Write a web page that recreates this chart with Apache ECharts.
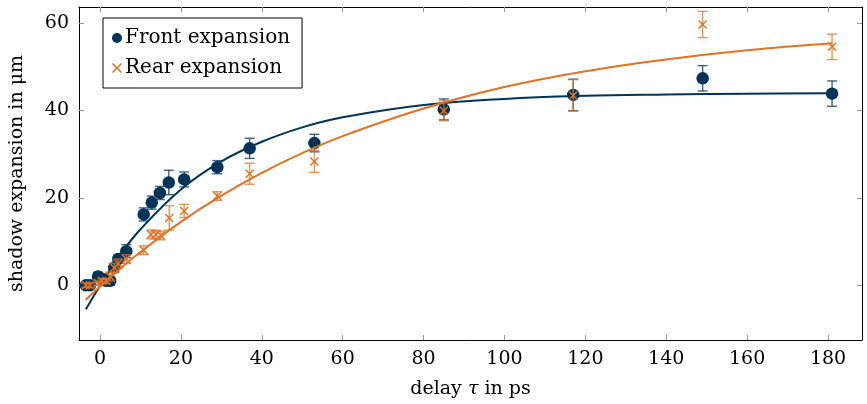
<!DOCTYPE html>
<html>
<head>
<meta charset="utf-8">
<script src="https://cdn.jsdelivr.net/npm/echarts@6/dist/echarts.min.js"></script>
<style>html,body{margin:0;padding:0;background:#fff;}#c{width:867px;height:404px;}</style>
</head>
<body>
<div id="c"></div>
<script>
// ---- data ----
const frontX   = [-3.5, -2.5, -0.5, 0.5, 1.5, 2.5, 3.5, 4.5, 6.5, 10.8, 12.8, 14.8, 17.0, 20.8, 29.0, 37.0, 53.0, 85.0, 117.0, 149.0, 181.0];
const frontY   = [0, 0, 2, 1.5, 1, 1, 4, 6, 7.8, 16.2, 18.9, 21.1, 23.5, 24.2, 27.0, 31.3, 32.5, 40.2, 43.5, 47.3, 43.8];
const frontErr = [0.5, 0.5, 1, 1, 1, 1, 1, 1, 1.5, 1.5, 1.5, 1.5, 2.8, 1.7, 1.5, 2.3, 2.0, 2.4, 3.6, 2.9, 2.9];

const rearX   = [-3.5, -2.5, -0.5, 0.5, 1.5, 2.5, 3.5, 4.5, 6.5, 10.8, 12.6, 13.8, 15.0, 17.1, 20.8, 29.0, 37.0, 53.0, 85.0, 117.0, 149.0, 181.0];
const rearY   = [0, 0, 0.5, 1, 1, 2, 4, 5, 6, 8.0, 11.6, 11.6, 11.4, 15.4, 17.0, 20.4, 25.5, 28.3, 39.9, 43.4, 59.6, 54.5];
const rearErr = [0.5, 0.5, 0.5, 0.5, 0.5, 1, 1, 1, 1, 1, 1, 1, 1, 2.8, 1.5, 1.0, 2.4, 2.5, 2.3, 3.6, 3.0, 2.9];

// fit curves
const fitX      = [-3.5, 0, 5, 10, 20, 30, 40, 50, 60, 80, 100, 120, 140, 160, 181];
const frontFitY = [-5.5, -0.1, 7.0, 12.8, 21.9, 28.3, 32.8, 36.1, 38.4, 41.2, 42.6, 43.3, 43.6, 43.8, 43.9];
const rearFitY  = [-3.3, -0.3, 3.8, 7.6, 14.5, 20.5, 25.7, 30.2, 34.1, 40.4, 45.3, 48.9, 51.6, 53.7, 55.3];

const xTicks = [0, 20, 40, 60, 80, 100, 120, 140, 160, 180];
const yTicks = [0, 20, 40, 60];

const xTitle = 'delay {i|τ} in ps';
const yTitle = 'shadow expansion in μm';
const frontName = 'Front expansion';
const rearName = 'Rear expansion';

// ---- styling ----
const NAVY = '#003359';
const ORANGE = '#E37222';
const FONT = 'DejaVu Serif';
const XPATH = 'path://M0,1.1L1.1,0L5,3.9L8.9,0L10,1.1L6.1,5L10,8.9L8.9,10L5,6.1L1.1,10L0,8.9L3.9,5Z';

const zip = (a, b) => a.map((v, i) => [v, b[i]]);
const errData = (xs, ys, es) => xs.map((v, i) => [v, ys[i] - es[i], ys[i] + es[i]]);

function errRender(color) {
  return function (params, api) {
    const x = api.value(0);
    const lo = api.coord([x, api.value(1)]);
    const hi = api.coord([x, api.value(2)]);
    const hw = 5;
    const style = { stroke: color, lineWidth: 1.4, opacity: 0.75 };
    return {
      type: 'group',
      children: [
        { type: 'line', shape: { x1: lo[0], y1: lo[1], x2: hi[0], y2: hi[1] }, style },
        { type: 'line', shape: { x1: lo[0] - hw, y1: lo[1], x2: lo[0] + hw, y2: lo[1] }, style },
        { type: 'line', shape: { x1: hi[0] - hw, y1: hi[1], x2: hi[0] + hw, y2: hi[1] }, style }
      ]
    };
  };
}

const axisCommon = {
  type: 'value',
  splitLine: { show: false },
  axisLine: { show: true, onZero: false, lineStyle: { color: '#000', width: 1 } },
  axisTick: { show: true, inside: true, length: 5, lineStyle: { color: '#999', width: 1 } }
};

const chart = echarts.init(document.getElementById('c'), null, { renderer: 'canvas' });
chart.setOption({
  animation: false,
  backgroundColor: '#fff',
  textStyle: { fontFamily: FONT },
  grid: { left: 78, right: 5, top: 7, bottom: 62, containLabel: false },
  legend: {
    data: [
      { name: frontName, icon: 'circle', itemStyle: { color: NAVY } },
      { name: rearName, icon: XPATH, itemStyle: { color: ORANGE } }
    ],
    orient: 'vertical',
    left: 103, top: 18,
    padding: [10, 12, 10, 9],
    itemGap: 10,
    itemWidth: 10, itemHeight: 10,
    borderColor: '#000', borderWidth: 1,
    backgroundColor: '#fff',
    textStyle: { fontFamily: FONT, fontSize: 20, lineHeight: 20, color: '#000', padding: [0, 0, 0, -2] }
  },
  xAxis: [
    Object.assign({}, axisCommon, {
      min: -5.2, max: 188.4, position: 'bottom',
      axisTick: Object.assign({}, axisCommon.axisTick, { customValues: xTicks }),
      axisLabel: { customValues: xTicks, color: '#000', fontFamily: FONT, fontSize: 19, margin: 10 },
      name: xTitle, nameLocation: 'middle', nameGap: 40,
      nameTextStyle: { fontFamily: FONT, fontSize: 19, color: '#000', rich: { i: { fontFamily: FONT, fontSize: 19, fontStyle: 'italic', color: '#000' } } }
    }),
    Object.assign({}, axisCommon, {
      min: -5.2, max: 188.4, position: 'top',
      axisTick: Object.assign({}, axisCommon.axisTick, { customValues: xTicks }),
      axisLabel: { show: false }
    })
  ],
  yAxis: [
    Object.assign({}, axisCommon, {
      min: -12.5, max: 63.6, position: 'left',
      axisTick: Object.assign({}, axisCommon.axisTick, { customValues: yTicks }),
      axisLabel: { customValues: yTicks, color: '#000', fontFamily: FONT, fontSize: 19, margin: 10 },
      name: yTitle, nameLocation: 'middle', nameGap: 52, nameRotate: 90,
      nameTextStyle: { fontFamily: FONT, fontSize: 19, color: '#000' }
    }),
    Object.assign({}, axisCommon, {
      min: -12.5, max: 63.6, position: 'right',
      axisTick: Object.assign({}, axisCommon.axisTick, { customValues: yTicks }),
      axisLabel: { show: false }
    })
  ],
  series: [
    { type: 'custom', name: 'frontErr', renderItem: errRender(NAVY), data: errData(frontX, frontY, frontErr), z: 2, encode: { x: 0, y: [1, 2] }, silent: true },
    { type: 'scatter', name: frontName, data: zip(frontX, frontY), symbol: 'circle', symbolSize: 12.5, itemStyle: { color: NAVY, opacity: 1 }, z: 3 },
    { type: 'line', name: 'frontFit', data: zip(fitX, frontFitY), smooth: 0.4, showSymbol: false, lineStyle: { color: NAVY, width: 2 }, z: 4, silent: true },
    { type: 'custom', name: 'rearErr', renderItem: errRender(ORANGE), data: errData(rearX, rearY, rearErr), z: 5, encode: { x: 0, y: [1, 2] }, silent: true },
    { type: 'scatter', name: rearName, data: zip(rearX, rearY), symbol: XPATH, symbolSize: 9, itemStyle: { color: ORANGE, opacity: 1 }, z: 6 },
    { type: 'line', name: 'rearFit', data: zip(fitX, rearFitY), smooth: 0.4, showSymbol: false, lineStyle: { color: ORANGE, width: 2 }, z: 7, silent: true }
  ]
});
</script>
</body>
</html>
